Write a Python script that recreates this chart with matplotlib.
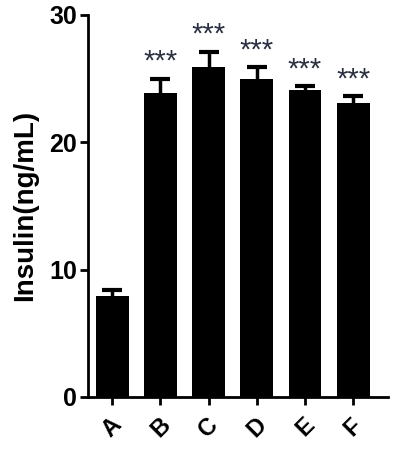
import matplotlib.pyplot as plt
import numpy as np

plt.rcParams['font.family'] = ['Liberation Sans', 'DejaVu Sans']

groups = ['A', 'B', 'C', 'D', 'E', 'F']
insulin = [7.9, 23.9, 25.9, 25.0, 24.1, 23.1]
sem = [0.5, 1.1, 1.2, 0.9, 0.3, 0.5]
marks = ['', '***', '***', '***', '***', '***']

fig = plt.figure(figsize=(3.95, 4.5), dpi=100)
ax = fig.add_axes([0.223, 0.118, 0.759, 0.849])

x = np.arange(len(groups))
ax.bar(x, insulin, width=0.68, color='black', zorder=3)
ax.errorbar(x, insulin, yerr=sem, fmt='none',
            ecolor='black', elinewidth=2.5, capsize=7, capthick=3, zorder=2)

for xi, v, e, m in zip(x, insulin, sem, marks):
    ax.text(xi, v + e + 0.7, m, ha='center', va='baseline',
            fontsize=21, color='#2a3040')

ax.set_xlim(-0.5, 5.72)
ax.set_ylim(0, 30)
ax.set_yticks([0, 10, 20, 30])
ax.set_xticks(x)
ax.set_xticklabels(groups, rotation=45, ha='center', fontweight='bold', fontsize=17)
for lab in ax.get_yticklabels():
    lab.set_fontweight('bold')
    lab.set_fontsize(18)
ax.set_ylabel('Insulin(ng/mL)', fontsize=20, fontweight='bold', labelpad=8)

ax.spines['top'].set_visible(False)
ax.spines['right'].set_visible(False)
ax.spines['left'].set_linewidth(2)
ax.spines['bottom'].set_linewidth(2)
ax.tick_params(axis='both', width=2, length=6, direction='out')
ax.tick_params(axis='y', pad=2)
ax.tick_params(axis='x', pad=6)

plt.savefig('out.png')
